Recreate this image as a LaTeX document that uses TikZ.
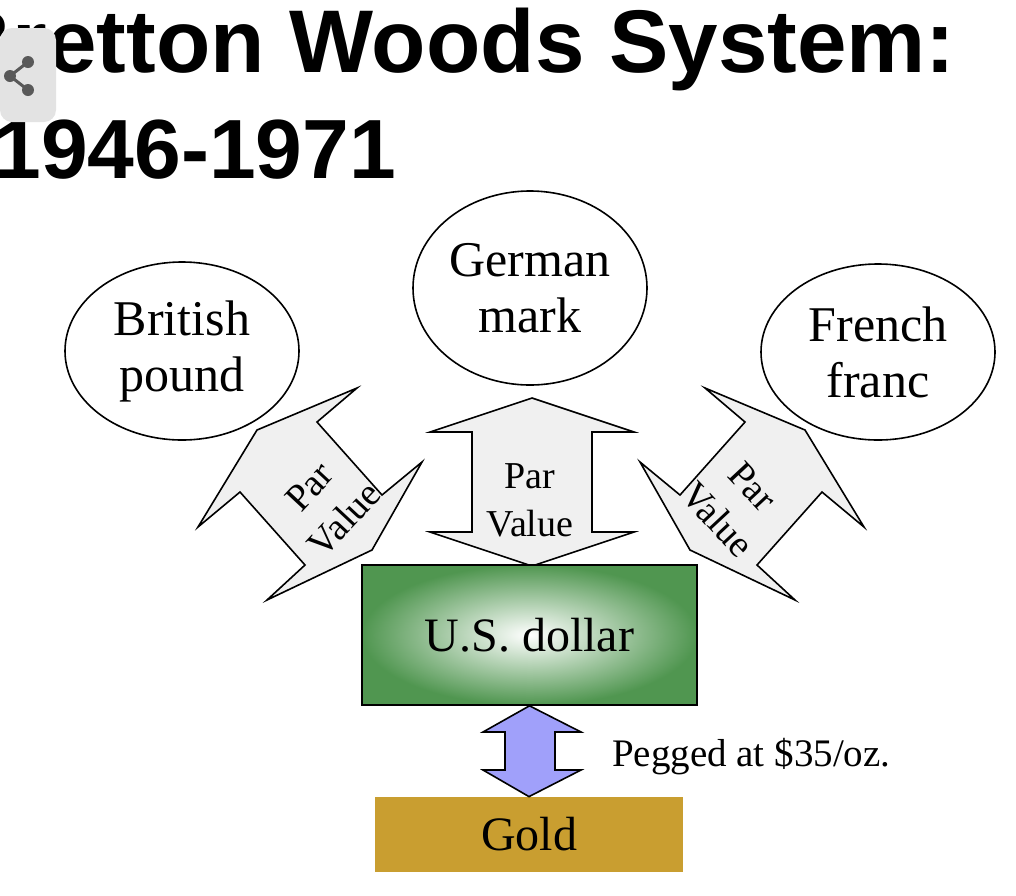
\documentclass[tikz,border=0pt]{standalone}
\usepackage{fontspec}
\usetikzlibrary{shapes.geometric}
\setmainfont{Liberation Serif}
\newfontfamily\titlefont{Liberation Sans}
\definecolor{goldc}{RGB}{201,158,48}
\definecolor{greenc}{RGB}{80,150,80}
\definecolor{bluec}{RGB}{160,160,250}
\begin{document}
\begin{tikzpicture}[x=0.5pt,y=-0.5pt,
  cur/.style={draw,thick,ellipse,fill=white,inner sep=0pt,font=\fontsize{25}{28}\selectfont,align=center},
  lbl/.style={font=\fontsize{19}{24}\selectfont,align=center,inner sep=0pt},
  dbl/.style={draw,fill=gray!12,line width=0.8pt,line join=miter}]
\useasboundingbox (0,0) rectangle (1016,895);
\fill[white] (0,0) rectangle (1016,895);
\begin{scope}
\clip (0,0) rectangle (1016,895);
\node[anchor=base west,inner sep=0pt,font=\titlefont\bfseries\fontsize{44.5}{44}\selectfont] (t1) at (-52,72) {Bretton Woods System:};
\node[anchor=base west,inner sep=0pt,font=\titlefont\bfseries\fontsize{42}{42}\selectfont] (t2) at (-6,178) {1946-1971};
\end{scope}
\fill[gray!22,rounded corners=6pt] (0,28) rectangle (56,122);
\begin{scope}[gray!70!black]
\draw[line width=1.5pt] (28,62) -- (10,76) -- (28,90);
\fill (28,62) circle (6) (10,76) circle (6) (28,90) circle (6);
\end{scope}
% circles
\node[cur,minimum width=117pt,minimum height=89pt] (bp) at (182,351) {British\\pound};
\node[cur,minimum width=117pt,minimum height=97pt] (gm) at (530,288) {German\\mark};
\node[cur,minimum width=117pt,minimum height=88pt] (ff) at (878,352) {French\\franc};
% double arrows
\begin{scope}[shift={(532,482)}]
\draw[dbl] (0,-84) -- (102,-50) -- (60,-50) -- (60,50) -- (102,50) -- (0,84) -- (-102,50) -- (-60,50) -- (-60,-50) -- (-102,-50) -- cycle;
\end{scope}
\draw[dbl] (257,430) -- (357,388) -- (317,422) -- (382,495) -- (422,462) -- (372,550) -- (267,600) -- (305,565) -- (240,492) -- (198,527) -- cycle;
\draw[dbl] (805,430) -- (705,388) -- (745,422) -- (680,495) -- (640,462) -- (690,550) -- (795,600) -- (757,565) -- (822,492) -- (864,527) -- cycle;
\node[lbl] (pv1) at (327,503) [rotate=47] {Par\\Value};
\node[lbl] (pv2) at (530,500) {Par\\Value};
\node[lbl] (pv3) at (735,503) [rotate=-47] {Par\\Value};
% dollar box
\shade[inner color=white,outer color=greenc] (362,565) rectangle (697,705);
\node[draw,thick,minimum width=167.5pt,minimum height=70pt,font=\fontsize{24}{24}\selectfont] (usd) at (529.5,635) {U.S. dollar};
% gold
\node[fill=goldc,minimum width=154pt,minimum height=37.5pt,font=\fontsize{24}{24}\selectfont] (gold) at (529,834.5) {Gold};
% blue arrow
\draw[fill=bluec,line width=0.8pt] (usd.south) -- (581,732) -- (555,732) -- (555,770) -- (581,770) -- (gold.north) -- (483,770) -- (505,770) -- (505,732) -- (483,732) -- cycle;
\node[anchor=west,font=\fontsize{19.5}{19}\selectfont] (peg) at (605,757) {Pegged at \$35/oz.};
\end{tikzpicture}
\end{document}
